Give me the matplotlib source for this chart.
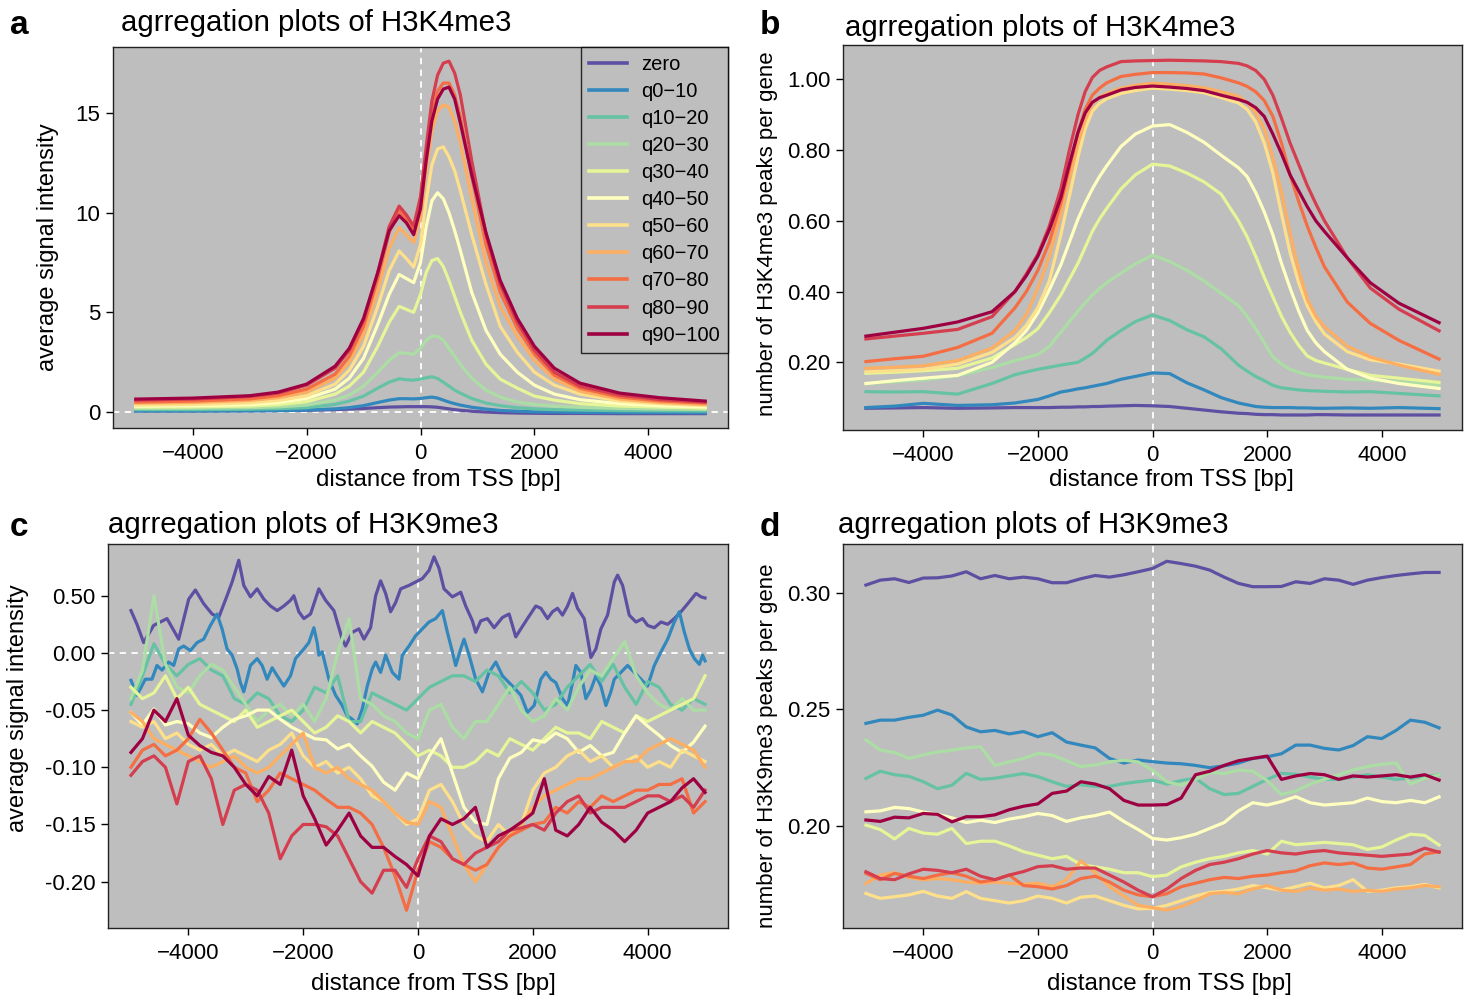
import matplotlib
matplotlib.use("Agg")
import matplotlib.pyplot as plt

plt.rcParams["font.family"] = ["Liberation Sans", "DejaVu Sans"]

# ---------------- data ---------------- #
series_names = ["zero", "q0\u221210", "q10\u221220", "q20\u221230", "q30\u221240", "q40\u221250",
                "q50\u221260", "q60\u221270", "q70\u221280", "q80\u221290", "q90\u2212100"]
series_colors = ["#5E4FA2", "#3288BD", "#66C2A5", "#ABDDA4", "#E6F598", "#FFFFBF",
                 "#FEE08B", "#FDAE61", "#F46D43", "#D53E4F", "#9E0142"]

# panel a: H3K4me3 average signal intensity
xa = [-5000, -4000, -3000, -2500, -2000, -1500, -1250, -1000, -750, -550, -375, -250, -120, 0,
      100, 200, 300, 400, 500, 600, 700, 900, 1150, 1400, 1700, 2000, 2350, 2800, 3500, 4200, 5000]
a_zero = [0.06, 0.06, 0.07, 0.08, 0.09, 0.12, 0.15, 0.18, 0.22, 0.25, 0.26, 0.27, 0.27, 0.27, 0.27, 0.26,
          0.24, 0.2, 0.16, 0.12, 0.09, 0.04, 0.0, -0.03, -0.05, -0.06, -0.07, -0.07, -0.08, -0.08, -0.08]
a_q0_10 = [0.05, 0.05, 0.06, 0.07, 0.1, 0.16, 0.22, 0.32, 0.48, 0.6, 0.67, 0.67, 0.66, 0.68, 0.72, 0.75,
           0.7, 0.6, 0.5, 0.42, 0.35, 0.24, 0.15, 0.08, 0.04, 0.01, 0.0, -0.02, -0.03, -0.03, -0.04]
a_q10_20 = [0.12, 0.12, 0.14, 0.17, 0.22, 0.38, 0.55, 0.8, 1.2, 1.5, 1.67, 1.62, 1.6, 1.65, 1.72, 1.77,
            1.68, 1.5, 1.3, 1.1, 0.95, 0.68, 0.45, 0.32, 0.22, 0.16, 0.12, 0.1, 0.07, 0.06, 0.05]
a_q20_30 = [0.18, 0.19, 0.22, 0.26, 0.35, 0.6, 0.85, 1.3, 2.0, 2.6, 2.98, 2.95, 2.9, 3.2, 3.6, 3.8,
            3.8, 3.6, 3.2, 2.8, 2.4, 1.7, 1.1, 0.75, 0.5, 0.38, 0.3, 0.24, 0.18, 0.15, 0.13]
a_q30_40 = [0.25, 0.26, 0.3, 0.37, 0.52, 0.9, 1.3, 2.0, 3.3, 4.5, 5.3, 5.15, 5.0, 5.9, 7.0, 7.6,
            7.7, 7.3, 6.6, 5.8, 5.0, 3.6, 2.4, 1.65, 1.2, 0.8, 0.6, 0.42, 0.3, 0.25, 0.2]
a_q40_50 = [0.3, 0.32, 0.38, 0.48, 0.68, 1.15, 1.7, 2.7, 4.4, 5.9, 6.9, 6.7, 6.49, 7.5, 9.3, 10.6,
            11.0, 10.7, 10.0, 9.1, 8.1, 6.0, 4.1, 2.9, 2.0, 1.35, 0.9, 0.62, 0.42, 0.32, 0.26]
a_q50_60 = [0.35, 0.38, 0.46, 0.58, 0.82, 1.4, 2.1, 3.3, 5.3, 7.1, 8.08, 7.7, 7.27, 8.4, 10.6, 12.4,
            13.2, 13.3, 12.8, 12.1, 11.1, 8.9, 6.4, 4.3, 3.0, 2.0, 1.35, 0.9, 0.55, 0.42, 0.32]
a_q60_70 = [0.45, 0.48, 0.58, 0.72, 1.0, 1.7, 2.5, 3.9, 6.1, 8.2, 9.25, 8.9, 8.5, 9.8, 12.1, 14.1,
            15.1, 15.4, 15.3, 14.6, 13.5, 10.7, 7.5, 5.3, 3.8, 2.6, 1.65, 1.05, 0.65, 0.48, 0.38]
a_q70_80 = [0.5, 0.55, 0.66, 0.82, 1.15, 1.9, 2.8, 4.3, 6.7, 9.0, 10.1, 9.7, 9.2, 10.5, 12.9, 15.0,
            16.1, 16.5, 16.5, 15.9, 14.8, 11.8, 8.4, 6.0, 4.2, 2.9, 1.85, 1.2, 0.75, 0.56, 0.45]
a_q80_90 = [0.6, 0.65, 0.78, 0.95, 1.35, 2.2, 3.1, 4.6, 7.0, 9.3, 10.33, 9.9, 9.33, 10.8, 13.3, 15.6,
            16.9, 17.5, 17.6, 17.0, 15.9, 12.6, 8.9, 6.4, 4.5, 3.1, 2.0, 1.3, 0.85, 0.63, 0.5]
a_q90_100 = [0.65, 0.70, 0.82, 1.0, 1.4, 2.3, 3.2, 4.7, 7.0, 9.1, 9.85, 9.5, 8.9, 10.2, 12.6, 14.6,
             15.7, 16.2, 16.3, 15.7, 14.5, 11.9, 9.0, 6.6, 4.7, 3.3, 2.2, 1.45, 0.95, 0.72, 0.55]

# panel b: H3K4me3 peaks per gene
xb = [-5000, -4500, -4000, -3400, -2800, -2400, -2200, -2000, -1800, -1600,
      -1450, -1300, -1175, -1050, -925, -800, -550, -300, 0, 300,
      600, 900, 1200, 1500, 1650, 1800, 1950, 2100, 2250, 2400,
      2550, 2700, 2850, 3000, 3400, 3800, 4300, 5000]
b_zero = [0.070, 0.071, 0.072, 0.070, 0.071, 0.072, 0.072, 0.072, 0.072, 0.073,
          0.073, 0.074, 0.074, 0.075, 0.075, 0.076, 0.077, 0.078, 0.077, 0.075,
          0.070, 0.065, 0.060, 0.056, 0.055, 0.053, 0.052, 0.052, 0.051, 0.051,
          0.051, 0.051, 0.052, 0.052, 0.051, 0.051, 0.051, 0.051]
b_q0_10 = [0.072, 0.076, 0.084, 0.078, 0.080, 0.085, 0.090, 0.095, 0.105, 0.116,
           0.120, 0.125, 0.128, 0.132, 0.136, 0.140, 0.152, 0.160, 0.170, 0.168,
           0.142, 0.122, 0.100, 0.085, 0.080, 0.075, 0.073, 0.072, 0.072, 0.072,
           0.071, 0.071, 0.070, 0.070, 0.071, 0.070, 0.072, 0.069]
b_q10_20 = [0.117, 0.116, 0.117, 0.110, 0.140, 0.165, 0.173, 0.180, 0.186, 0.192,
            0.196, 0.200, 0.212, 0.225, 0.243, 0.262, 0.290, 0.315, 0.334, 0.318,
            0.292, 0.272, 0.238, 0.192, 0.175, 0.160, 0.148, 0.135, 0.128, 0.125,
            0.122, 0.120, 0.119, 0.118, 0.116, 0.117, 0.112, 0.105]
b_q20_30 = [0.140, 0.145, 0.150, 0.162, 0.185, 0.205, 0.213, 0.222, 0.245, 0.285,
            0.315, 0.345, 0.368, 0.390, 0.408, 0.425, 0.452, 0.478, 0.503, 0.485,
            0.460, 0.430, 0.395, 0.360, 0.330, 0.295, 0.255, 0.215, 0.195, 0.180,
            0.172, 0.165, 0.161, 0.158, 0.152, 0.150, 0.145, 0.135]
b_q30_40 = [0.169, 0.172, 0.176, 0.183, 0.212, 0.250, 0.270, 0.295, 0.340, 0.390,
            0.435, 0.480, 0.525, 0.570, 0.605, 0.635, 0.690, 0.730, 0.760, 0.755,
            0.735, 0.710, 0.675, 0.600, 0.555, 0.500, 0.440, 0.385, 0.330, 0.285,
            0.248, 0.218, 0.205, 0.198, 0.180, 0.163, 0.155, 0.143]
b_q40_50 = [0.140, 0.148, 0.155, 0.163, 0.200, 0.255, 0.290, 0.340, 0.405, 0.475,
            0.540, 0.605, 0.650, 0.690, 0.725, 0.755, 0.810, 0.845, 0.868, 0.872,
            0.850, 0.822, 0.785, 0.750, 0.725, 0.680, 0.625, 0.560, 0.480, 0.410,
            0.345, 0.290, 0.255, 0.230, 0.180, 0.155, 0.140, 0.126]
b_q50_60 = [0.173, 0.176, 0.180, 0.195, 0.228, 0.270, 0.305, 0.355, 0.430, 0.560,
            0.670, 0.780, 0.860, 0.910, 0.932, 0.945, 0.960, 0.968, 0.975, 0.972,
            0.968, 0.962, 0.948, 0.933, 0.915, 0.880, 0.820, 0.735, 0.620, 0.510,
            0.425, 0.360, 0.315, 0.280, 0.230, 0.207, 0.195, 0.175]
b_q60_70 = [0.183, 0.186, 0.190, 0.205, 0.240, 0.290, 0.335, 0.410, 0.500, 0.620,
            0.720, 0.820, 0.885, 0.930, 0.950, 0.960, 0.975, 0.983, 0.989, 0.986,
            0.982, 0.976, 0.965, 0.952, 0.935, 0.905, 0.860, 0.780, 0.680, 0.565,
            0.460, 0.378, 0.330, 0.300, 0.245, 0.215, 0.192, 0.166]
b_q70_80 = [0.202, 0.210, 0.217, 0.242, 0.282, 0.354, 0.400, 0.460, 0.540, 0.650,
            0.750, 0.850, 0.915, 0.955, 0.975, 0.990, 1.008, 1.014, 1.019, 1.019,
            1.018, 1.015, 1.004, 0.990, 0.980, 0.965, 0.940, 0.895, 0.820, 0.730,
            0.655, 0.585, 0.525, 0.470, 0.370, 0.310, 0.262, 0.209]
b_q80_90 = [0.266, 0.274, 0.282, 0.293, 0.329, 0.400, 0.450, 0.505, 0.585, 0.690,
            0.800, 0.900, 0.965, 1.005, 1.025, 1.035, 1.050, 1.052, 1.053, 1.054,
            1.053, 1.052, 1.050, 1.045, 1.038, 1.025, 1.000, 0.955, 0.890, 0.820,
            0.760, 0.700, 0.648, 0.600, 0.495, 0.410, 0.350, 0.289]
b_q90_100 = [0.274, 0.285, 0.296, 0.314, 0.343, 0.400, 0.445, 0.500, 0.575, 0.665,
             0.760, 0.850, 0.905, 0.935, 0.948, 0.955, 0.970, 0.977, 0.981, 0.978,
             0.974, 0.968, 0.955, 0.943, 0.935, 0.920, 0.895, 0.845, 0.790, 0.730,
             0.685, 0.640, 0.600, 0.570, 0.495, 0.425, 0.367, 0.312]

# panel c: H3K9me3 average signal intensity
# zero and q0-10 were read at finer positions; the other groups on a 200 bp grid
xc_zero = [-5000, -4895, -4779, -4605, -4372, -4169, -3994, -3878, -3733, -3587,
           -3471, -3326, -3238, -3122, -3035, -2919, -2802, -2686, -2570, -2453,
           -2337, -2221, -2163, -2076, -1988, -1872, -1727,
           -1610, -1465, -1407, -1320, -1262, -1145, -1029, -942, -826, -738,
           -651, -564, -477, -390, -302, -157, -41, 76, 192, 279,
           366, 453, 599, 744, 831, 948, 1006, 1093, 1209, 1326,
           1471, 1587, 1703,
           1791, 1907, 2052, 2140, 2256, 2343, 2430, 2517, 2605, 2692,
           2779, 2895, 3012, 3099, 3186, 3302, 3419, 3477, 3564, 3680,
           3797, 3913, 4000, 4116, 4233, 4349, 4465, 4581, 4698, 4843, 4930, 5000]
c_zero = [0.037, 0.025, 0.009, 0.024, 0.030, 0.012, 0.047, 0.055, 0.043, 0.034,
          0.031, 0.050, 0.062, 0.081, 0.059, 0.049, 0.056, 0.047, 0.041, 0.037,
          0.041, 0.046, 0.050, 0.036, 0.030, 0.034, 0.056,
          0.046, 0.037, 0.027, 0.012, 0.006, 0.018, 0.021, 0.012, 0.022, 0.050,
          0.063, 0.052, 0.036, 0.044, 0.056, 0.059, 0.062, 0.065, 0.072, 0.084,
          0.074, 0.056, 0.049, 0.053, 0.041, 0.028, 0.018, 0.028, 0.030, 0.022,
          0.031, 0.034, 0.014,
          0.021, 0.030, 0.041, 0.039, 0.030, 0.036, 0.039, 0.033, 0.041, 0.052,
          0.039, 0.030, -0.004, 0.0035, 0.021, 0.033, 0.062, 0.068, 0.059, 0.033,
          0.027, 0.030, 0.024, 0.022, 0.027, 0.025, 0.030, 0.036, 0.043, 0.052, 0.049, 0.048]
xc_q0_10 = [-5000, -4895, -4750, -4634, -4547, -4459, -4343, -4256, -4169, -4081,
            -3965, -3849, -3733, -3616, -3500, -3413, -3326, -3238, -3151, -3093,
            -3035, -2919, -2802, -2715, -2628, -2541, -2453, -2337, -2221, -2134,
            -1988, -1901, -1814, -1756,
            -1727, -1669, -1552, -1436, -1320, -1233, -1145, -1058, -971, -884,
            -797, -738, -651, -564, -448, -331, -273, -157, -41, 76,
            192, 308, 424, 512, 599, 657, 744, 802, 890, 1006,
            1122, 1238, 1355, 1471, 1587, 1703,
            1791, 1907, 2023, 2140, 2227, 2314, 2401, 2517, 2605, 2692,
            2750, 2837, 2924, 3012, 3099, 3186, 3273, 3360, 3419, 3535,
            3651, 3767, 3884, 4000, 4116, 4233, 4349, 4465, 4552, 4640,
            4727, 4814, 4901, 4959, 5000]
c_q0_10 = [-0.024, -0.037, -0.023, -0.023, -0.011, -0.015, -0.008, -0.011, 0.0035, 0.006,
           0.002, 0.009, 0.012, 0.024, 0.034, 0.021, 0.0035, -0.002, -0.014, -0.026,
           -0.034, -0.011, -0.005, -0.011, -0.023, -0.013, -0.020, -0.029, -0.020, -0.005,
           0.0035, 0.009, 0.022, 0.009,
           -0.002, 0.001, -0.023, -0.037, -0.046, -0.055, -0.058, -0.062, -0.049, -0.029,
           -0.014, -0.008, -0.017, -0.002, -0.017, -0.023, -0.002, 0.006, 0.015, 0.021,
           0.027, 0.030, 0.037, 0.018, 0.001, -0.011, 0.0035, 0.012, -0.002, -0.023,
           -0.034, -0.017, -0.008, -0.020, -0.026, -0.032,
           -0.037, -0.052, -0.046, -0.023, -0.017, -0.023, -0.026, -0.040, -0.046, -0.026,
           -0.011, -0.017, -0.040, -0.032, -0.020, -0.029, -0.046, -0.034, -0.023, -0.017,
           -0.011, -0.017, -0.023, -0.029, -0.011, 0.001, 0.012, 0.027, 0.036, 0.018,
           0.0035, -0.005, -0.010, -0.002, -0.007]
xc = list(range(-5000, 5001, 200))
c_q10_20 = [-0.045, -0.020, 0.008, -0.010, -0.020, -0.010, -0.005, -0.015, -0.020, -0.040,
            -0.045, -0.035, -0.040, -0.055, -0.060, -0.050, -0.030, -0.035, -0.020, -0.060,
            -0.060, -0.035, -0.040, -0.045, -0.050, -0.040, -0.030, -0.025, -0.020, -0.020,
            -0.025, -0.015, -0.020, -0.035, -0.025, -0.035, -0.050, -0.045, -0.030, -0.020,
            -0.010, -0.025, -0.010, -0.030, -0.045, -0.025, -0.030, -0.045, -0.050, -0.040, -0.045]
c_q20_30 = [-0.040, -0.015, 0.050, -0.010, -0.030, -0.035, -0.020, -0.010, -0.015, -0.030,
            -0.045, -0.060, -0.050, -0.045, -0.055, -0.045, -0.060, -0.040, 0.000, 0.030,
            -0.040, -0.045, -0.055, -0.060, -0.070, -0.075, -0.050, -0.045, -0.065, -0.075,
            -0.060, -0.060, -0.045, -0.030, -0.050, -0.060, -0.055, -0.040, -0.050, -0.030,
            -0.015, -0.020, -0.005, 0.010, -0.020, -0.035, -0.045, -0.050, -0.040, -0.050, -0.050]
c_q30_40 = [-0.030, -0.040, -0.035, -0.020, -0.040, -0.030, -0.045, -0.050, -0.055, -0.060,
            -0.050, -0.065, -0.060, -0.055, -0.050, -0.060, -0.070, -0.065, -0.055, -0.060,
            -0.070, -0.060, -0.065, -0.070, -0.080, -0.090, -0.085, -0.090, -0.100, -0.100,
            -0.095, -0.085, -0.090, -0.075, -0.080, -0.085, -0.075, -0.065, -0.070, -0.070,
            -0.075, -0.060, -0.065, -0.070, -0.055, -0.060, -0.055, -0.050, -0.045, -0.040, -0.020]
c_q40_50 = [-0.052, -0.063, -0.049, -0.063, -0.060, -0.062, -0.070, -0.074, -0.065, -0.058,
            -0.055, -0.050, -0.050, -0.058, -0.065, -0.070, -0.075, -0.076, -0.084, -0.080,
            -0.090, -0.099, -0.113, -0.120, -0.105, -0.110, -0.090, -0.075, -0.105, -0.135,
            -0.148, -0.150, -0.110, -0.092, -0.087, -0.076, -0.078, -0.070, -0.075, -0.087,
            -0.081, -0.090, -0.087, -0.070, -0.055, -0.064, -0.072, -0.081, -0.087, -0.078, -0.064]
c_q50_60 = [-0.060, -0.065, -0.060, -0.075, -0.070, -0.080, -0.085, -0.080, -0.090, -0.085,
            -0.090, -0.095, -0.085, -0.080, -0.070, -0.090, -0.100, -0.095, -0.105, -0.100,
            -0.110, -0.125, -0.130, -0.140, -0.150, -0.145, -0.120, -0.115, -0.130, -0.150,
            -0.160, -0.165, -0.150, -0.160, -0.150, -0.120, -0.105, -0.100, -0.090, -0.085,
            -0.095, -0.090, -0.100, -0.095, -0.090, -0.100, -0.095, -0.100, -0.085, -0.090, -0.095]
c_q60_70 = [-0.052, -0.060, -0.075, -0.080, -0.085, -0.090, -0.095, -0.100, -0.095, -0.090,
            -0.100, -0.105, -0.100, -0.090, -0.080, -0.070, -0.100, -0.105, -0.100, -0.110,
            -0.115, -0.120, -0.130, -0.140, -0.148, -0.150, -0.130, -0.135, -0.160, -0.185,
            -0.200, -0.185, -0.170, -0.160, -0.150, -0.135, -0.125, -0.120, -0.115, -0.110,
            -0.110, -0.105, -0.100, -0.095, -0.095, -0.085, -0.080, -0.075, -0.080, -0.085, -0.100]
c_q70_80 = [-0.100, -0.085, -0.080, -0.090, -0.085, -0.075, -0.058, -0.070, -0.085, -0.100,
            -0.105, -0.130, -0.120, -0.105, -0.110, -0.115, -0.120, -0.128, -0.135, -0.135,
            -0.140, -0.150, -0.170, -0.195, -0.225, -0.190, -0.165, -0.170, -0.180, -0.185,
            -0.190, -0.185, -0.170, -0.160, -0.155, -0.150, -0.148, -0.135, -0.140, -0.130,
            -0.135, -0.125, -0.130, -0.125, -0.120, -0.120, -0.115, -0.115, -0.110, -0.140, -0.130]
c_q80_90 = [-0.107, -0.095, -0.090, -0.100, -0.132, -0.095, -0.090, -0.110, -0.150, -0.120,
            -0.115, -0.120, -0.140, -0.180, -0.160, -0.150, -0.150, -0.152, -0.160, -0.180,
            -0.200, -0.210, -0.190, -0.190, -0.205, -0.180, -0.160, -0.165, -0.180, -0.185,
            -0.175, -0.170, -0.165, -0.155, -0.153, -0.150, -0.155, -0.140, -0.130, -0.125,
            -0.140, -0.135, -0.135, -0.135, -0.130, -0.125, -0.125, -0.130, -0.125, -0.135, -0.120]
c_q90_100 = [-0.087, -0.075, -0.050, -0.060, -0.040, -0.072, -0.081, -0.087, -0.090, -0.100,
             -0.115, -0.125, -0.108, -0.115, -0.085, -0.125, -0.145, -0.168, -0.155, -0.140,
             -0.160, -0.170, -0.170, -0.178, -0.185, -0.195, -0.160, -0.145, -0.150, -0.145,
             -0.135, -0.170, -0.160, -0.155, -0.148, -0.140, -0.110, -0.155, -0.160, -0.150,
             -0.135, -0.148, -0.155, -0.165, -0.155, -0.140, -0.135, -0.130, -0.118, -0.110, -0.122]

# panel d: H3K9me3 peaks per gene (250 bp steps)
xd = list(range(-5000, 5001, 250))
d_zero = [0.3033, 0.3054, 0.3060, 0.3044, 0.3063, 0.3064, 0.3072, 0.3090, 0.3060, 0.3074,
          0.3060, 0.3067, 0.3060, 0.3043, 0.3043, 0.3060, 0.3074, 0.3067, 0.3077, 0.3090,
          0.3104, 0.3135, 0.3125, 0.3114, 0.3097, 0.3067, 0.3040, 0.3026, 0.3026, 0.3027,
          0.3047, 0.3040, 0.3060, 0.3054, 0.3036, 0.3054, 0.3065, 0.3074, 0.3081, 0.3087, 0.3087]
d_q0_10 = [0.2440, 0.2454, 0.2454, 0.2466, 0.2475, 0.2497, 0.2476, 0.2425, 0.2404, 0.2410,
           0.2395, 0.2405, 0.2383, 0.2400, 0.2360, 0.2347, 0.2335, 0.2290, 0.2270, 0.2283,
           0.2276, 0.2270, 0.2267, 0.2260, 0.2250, 0.2258, 0.2270, 0.2290, 0.2297, 0.2310,
           0.2347, 0.2347, 0.2333, 0.2326, 0.2345, 0.2383, 0.2375, 0.2410, 0.2454, 0.2445, 0.2421]
d_q10_20 = [0.2204, 0.2235, 0.2220, 0.2213, 0.2190, 0.2160, 0.2175, 0.2226, 0.2200, 0.2205,
            0.2215, 0.2225, 0.2212, 0.2190, 0.2170, 0.2177, 0.2170, 0.2170, 0.2182, 0.2190,
            0.2197, 0.2180, 0.2195, 0.2205, 0.2160, 0.2135, 0.2140, 0.2170, 0.2200, 0.2226,
            0.2222, 0.2210, 0.2200, 0.2200, 0.2210, 0.2220, 0.2210, 0.2200, 0.2205, 0.2212, 0.2219]
d_q20_30 = [0.2369, 0.2326, 0.2315, 0.2290, 0.2305, 0.2318, 0.2325, 0.2335, 0.2340, 0.2260,
            0.2275, 0.2290, 0.2311, 0.2305, 0.2280, 0.2255, 0.2262, 0.2275, 0.2282, 0.2275,
            0.2240, 0.2190, 0.2175, 0.2200, 0.2230, 0.2225, 0.2240, 0.2235, 0.2195, 0.2135,
            0.2150, 0.2180, 0.2200, 0.2220, 0.2240, 0.2255, 0.2265, 0.2270, 0.2180, 0.2205, 0.2219]
d_q30_40 = [0.2004, 0.1985, 0.1945, 0.1990, 0.1970, 0.1965, 0.1990, 0.1925, 0.1935, 0.1935,
            0.1915, 0.1890, 0.1875, 0.1860, 0.1870, 0.1835, 0.1825, 0.1815, 0.1800, 0.1800,
            0.1783, 0.1790, 0.1825, 0.1845, 0.1860, 0.1870, 0.1885, 0.1895, 0.1880, 0.1935,
            0.1920, 0.1925, 0.1930, 0.1925, 0.1920, 0.1900, 0.1910, 0.1940, 0.1965, 0.1960, 0.1919]
d_q40_50 = [0.2061, 0.2065, 0.2080, 0.2075, 0.2060, 0.2050, 0.2035, 0.2015, 0.2025, 0.2015,
            0.2030, 0.2040, 0.2054, 0.2045, 0.2020, 0.2035, 0.2045, 0.2060, 0.2020, 0.1985,
            0.1947, 0.1940, 0.1950, 0.1965, 0.1990, 0.2015, 0.2065, 0.2100, 0.2090, 0.2105,
            0.2126, 0.2100, 0.2090, 0.2095, 0.2100, 0.2120, 0.2105, 0.2100, 0.2110, 0.2100, 0.2125]
d_q50_60 = [0.1711, 0.1690, 0.1697, 0.1705, 0.1720, 0.1700, 0.1690, 0.1719, 0.1690, 0.1680,
            0.1670, 0.1680, 0.1700, 0.1690, 0.1670, 0.1695, 0.1700, 0.1680, 0.1660, 0.1645,
            0.1647, 0.1660, 0.1680, 0.1700, 0.1715, 0.1720, 0.1730, 0.1745, 0.1735, 0.1725,
            0.1740, 0.1755, 0.1735, 0.1745, 0.1770, 0.1720, 0.1725, 0.1735, 0.1740, 0.1750, 0.1735]
d_q60_70 = [0.1754, 0.1790, 0.1800, 0.1780, 0.1770, 0.1775, 0.1770, 0.1760, 0.1755, 0.1760,
            0.1755, 0.1750, 0.1755, 0.1740, 0.1770, 0.1850, 0.1800, 0.1740, 0.1700, 0.1660,
            0.1650, 0.1640, 0.1655, 0.1680, 0.1710, 0.1715, 0.1710, 0.1730, 0.1745, 0.1725,
            0.1720, 0.1735, 0.1725, 0.1730, 0.1720, 0.1725, 0.1720, 0.1730, 0.1735, 0.1745, 0.1740]
d_q70_80 = [0.1797, 0.1770, 0.1797, 0.1785, 0.1775, 0.1790, 0.1800, 0.1785, 0.1760, 0.1770,
            0.1790, 0.1745, 0.1740, 0.1730, 0.1745, 0.1775, 0.1785, 0.1760, 0.1725, 0.1705,
            0.1697, 0.1710, 0.1740, 0.1755, 0.1770, 0.1780, 0.1775, 0.1785, 0.1790, 0.1800,
            0.1808, 0.1830, 0.1842, 0.1835, 0.1842, 0.1820, 0.1815, 0.1825, 0.1835, 0.1880, 0.1890]
d_q80_90 = [0.1804, 0.1775, 0.1770, 0.1795, 0.1815, 0.1810, 0.1800, 0.1815, 0.1785, 0.1770,
            0.1790, 0.1805, 0.1826, 0.1830, 0.1815, 0.1820, 0.1820, 0.1790, 0.1760, 0.1725,
            0.1697, 0.1730, 0.1775, 0.1810, 0.1835, 0.1845, 0.1860, 0.1880, 0.1895, 0.1885,
            0.1880, 0.1890, 0.1895, 0.1885, 0.1880, 0.1875, 0.1870, 0.1875, 0.1880, 0.1905, 0.1888]
d_q90_100 = [0.2026, 0.2020, 0.2038, 0.2035, 0.2054, 0.2050, 0.2018, 0.2040, 0.2040, 0.2048,
             0.2070, 0.2085, 0.2095, 0.2140, 0.2150, 0.2190, 0.2180, 0.2160, 0.2110, 0.2090,
             0.2090, 0.2092, 0.2120, 0.2220, 0.2235, 0.2260, 0.2280, 0.2290, 0.2300, 0.2200,
             0.2215, 0.2225, 0.2220, 0.2200, 0.2215, 0.2210, 0.2215, 0.2220, 0.2210, 0.2220, 0.2197]

x_ticks = [-4000, -2000, 0, 2000, 4000]

# ---------------- figure ---------------- #
W, H = 1468, 1000
fig = plt.figure(figsize=(W / 100, H / 100), dpi=100)
fig.patch.set_facecolor("white")


def make_axes(left, top, right, bottom):
    return fig.add_axes([left / W, 1 - bottom / H, (right - left) / W, (bottom - top) / H])


def style_axes(ax, ylim, yticks, yticklabels, hline=False):
    ax.set_facecolor("#bebebe")
    ax.set_xlim(-5400, 5400)
    ax.set_ylim(*ylim)
    ax.set_xticks(x_ticks)
    ax.set_xticklabels([str(t).replace("-", "\u2212") for t in x_ticks])
    ax.set_yticks(yticks)
    ax.set_yticklabels(yticklabels)
    ax.tick_params(direction="out", length=5, width=1.0, labelsize=16, pad=4, colors="black")
    ax.tick_params(axis="x", pad=6)
    for sp in ax.spines.values():
        sp.set_linewidth(1.0)
        sp.set_color("#222222")
    ax.axvline(0, color="white", lw=1.3, ls=(0, (3.5, 3)), zorder=1)
    if hline:
        ax.axhline(0, color="white", lw=1.3, ls=(0, (3.5, 3)), zorder=1)


def draw(ax, xs, series):
    for x, vals, col, name in zip(xs, series, series_colors, series_names):
        ax.plot(x, vals, color=col, lw=2.3, label=name, solid_joinstyle="round", zorder=2)


ax_a = make_axes(113, 47, 728, 428)
style_axes(ax_a, (-0.8, 18.31), [0, 5, 10, 15], ["0", "5", "10", "15"], hline=True)
draw(ax_a, [xa] * 11, [a_zero, a_q0_10, a_q10_20, a_q20_30, a_q30_40, a_q40_50,
                       a_q50_60, a_q60_70, a_q70_80, a_q80_90, a_q90_100])
leg = ax_a.legend(loc="upper right", bbox_to_anchor=(1.0, 1.0), borderaxespad=0, fontsize=14.5,
                  frameon=True, fancybox=False, handlelength=1.9, handletextpad=0.7,
                  labelspacing=0.40, borderpad=0.4)
leg.get_frame().set_edgecolor("black")
leg.get_frame().set_facecolor("#bebebe")
leg.get_frame().set_linewidth(1.0)
for ln in leg.get_lines():
    ln.set_linewidth(2.6)

ax_b = make_axes(843, 45, 1462, 430)
style_axes(ax_b, (0.0086, 1.097), [0.2, 0.4, 0.6, 0.8, 1.0], ["0.20", "0.40", "0.60", "0.80", "1.00"])
draw(ax_b, [xb] * 11, [b_zero, b_q0_10, b_q10_20, b_q20_30, b_q30_40, b_q40_50,
                       b_q50_60, b_q60_70, b_q70_80, b_q80_90, b_q90_100])

ax_c = make_axes(108, 544, 728, 928)
style_axes(ax_c, (-0.2405, 0.0952), [0.05, 0.0, -0.05, -0.10, -0.15, -0.20],
           ["0.50", "0.00", "-0.05", "-0.10", "-0.15", "-0.20"], hline=True)
draw(ax_c, [xc_zero, xc_q0_10] + [xc] * 9,
     [c_zero, c_q0_10, c_q10_20, c_q20_30, c_q30_40, c_q40_50,
      c_q50_60, c_q60_70, c_q70_80, c_q80_90, c_q90_100])

ax_d = make_axes(843, 544, 1462, 928)
style_axes(ax_d, (0.1563, 0.3209), [0.20, 0.25, 0.30], ["0.20", "0.25", "0.30"])
draw(ax_d, [xd] * 11, [d_zero, d_q0_10, d_q10_20, d_q20_30, d_q30_40, d_q40_50,
                       d_q50_60, d_q60_70, d_q70_80, d_q80_90, d_q90_100])


def ftext(x, y, s, **kw):
    fig.text(x / W, 1 - y / H, s, **kw)


# panel letters
for px, py, letter in [(10, 25, "a"), (760, 25, "b"), (10, 527, "c"), (760, 527, "d")]:
    ftext(px, py, letter, fontsize=24, fontweight="bold", ha="left", va="center")

# titles
ftext(121, 23, "agrregation plots of H3K4me3", fontsize=21.2, ha="left", va="center")
ftext(845, 28, "agrregation plots of H3K4me3", fontsize=21.2, ha="left", va="center")
ftext(108, 525, "agrregation plots of H3K9me3", fontsize=21.2, ha="left", va="center")
ftext(838, 525, "agrregation plots of H3K9me3", fontsize=21.2, ha="left", va="center")

# x labels
for px, py in [(438, 480), (1171, 480), (433, 984), (1169, 984)]:
    ftext(px, py, "distance from TSS [bp]", fontsize=17.4, ha="center", va="center")

# y labels
ftext(48, 247, "average signal intensity", fontsize=17, rotation=90, ha="center", va="center")
ftext(768, 234, "number of H3K4me3 peaks per gene", fontsize=16, rotation=90, ha="center", va="center")
ftext(18, 708, "average signal intensity", fontsize=17, rotation=90, ha="center", va="center")
ftext(768, 746, "number of H3K9me3 peaks per gene", fontsize=16, rotation=90, ha="center", va="center")

fig.savefig("out.png", dpi=100, facecolor="white")
